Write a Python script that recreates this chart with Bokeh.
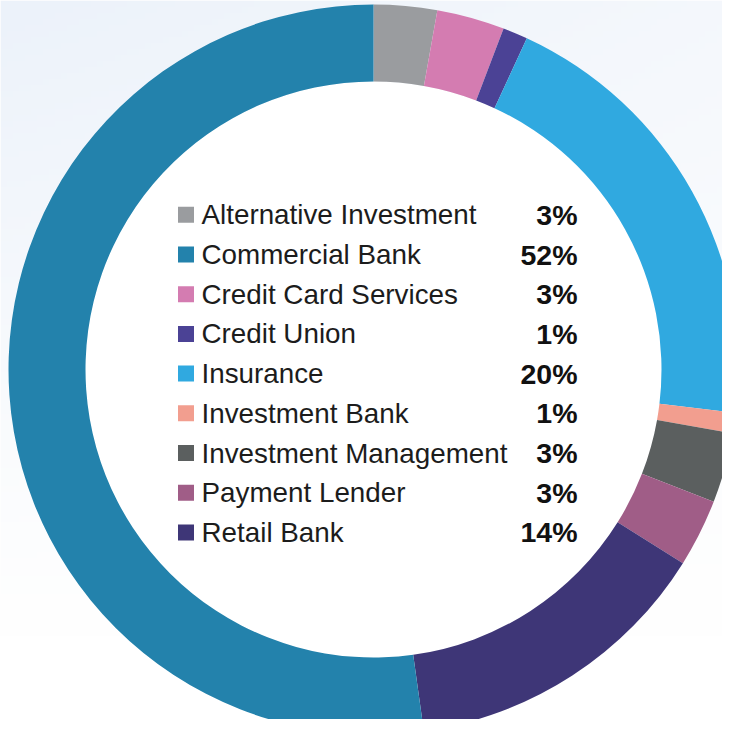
import numpy as np
from bokeh.plotting import figure
from bokeh.models import Range1d, ColumnDataSource
from bokeh.core.properties import value
from bokeh.embed import file_html
from bokeh.resources import INLINE

# ---------------- data ----------------
categories = ["Alternative Investment", "Commercial Bank", "Credit Card Services",
              "Credit Union", "Insurance", "Investment Bank",
              "Investment Management", "Payment Lender", "Retail Bank"]
shares = [2.8, 52.2, 3.0, 1.1, 20.0, 0.9, 3.1, 3.0, 13.9]
pct_labels = ["3%", "52%", "3%", "1%", "20%", "1%", "3%", "3%", "14%"]
colors = ["#9A9C9F", "#2382AC", "#D47CB1", "#4B4295", "#30A9E0",
          "#F29E8F", "#5B5F5F", "#A05D87", "#3E3677"]
# clockwise order of the ring, starting at 12 o'clock
ring_order = ["Alternative Investment", "Credit Card Services", "Credit Union",
              "Insurance", "Investment Bank", "Investment Management",
              "Payment Lender", "Retail Bank", "Commercial Bank"]

# ---------------- layout ----------------
W, H = 722, 719
PAGE_H = 735
def py(page_y):
    return PAGE_H - page_y

cx, cy = 373, py(369)
r_out, r_in = 365, 288

p = figure(width=W, height=H, output_backend="svg", toolbar_location=None,
           x_range=Range1d(0, W), y_range=Range1d(PAGE_H - H, PAGE_H),
           min_border=0, border_fill_color="white", background_fill_color="white")
p.axis.visible = False
p.grid.visible = False
p.outline_line_color = None

# subtle background gradient (decorative)
gh, gw = 120, 120
ys = np.linspace(H, 0, gh)[:, None]   # page y; row 0 = bottom of plot
xs = np.linspace(0, W, gw)[None, :]
f = np.clip(1 - ys / 640.0, 0, 1) ** 1.1 * (1 - 0.45 * xs / 738.0)
base = np.array([236, 242, 250], dtype=float)
rgb = 255 - f[..., None] * (255 - base)
img = np.empty((gh, gw), dtype=np.uint32)
view = img.view(dtype=np.uint8).reshape((gh, gw, 4))
view[..., 0] = rgb[..., 0].astype(np.uint8)
view[..., 1] = rgb[..., 1].astype(np.uint8)
view[..., 2] = rgb[..., 2].astype(np.uint8)
view[..., 3] = 255
p.image_rgba(image=[img], x=0, y=PAGE_H - H, dw=W, dh=H)

# white hole
p.scatter(x=[cx], y=[cy], size=2 * r_in, marker="circle",
          fill_color="white", line_color=None)

# ring
share_of = dict(zip(categories, shares))
color_of = dict(zip(categories, colors))
ring_vals = np.array([share_of[c] for c in ring_order])
cum = np.concatenate([[0], np.cumsum(ring_vals)]) / ring_vals.sum()
start = np.pi / 2 - 2 * np.pi * cum[:-1]
end = np.pi / 2 - 2 * np.pi * cum[1:]
ring_src = ColumnDataSource(dict(
    x=[cx] * len(ring_order), y=[cy] * len(ring_order),
    start=start, end=end, color=[color_of[c] for c in ring_order]))
p.annular_wedge(x="x", y="y", inner_radius=r_in, outer_radius=r_out,
                start_angle="start", end_angle="end", direction="clock",
                fill_color="color", line_color=None, source=ring_src)

# legend inside the hole
row0, step = 214.3, 39.7
leg_y = [py(row0 + i * step) for i in range(len(categories))]
leg_src = ColumnDataSource(dict(y=leg_y, cat=categories, pct=pct_labels, color=colors,
                                xs=[185.5] * len(categories), xt=[201] * len(categories),
                                xp=[577] * len(categories)))
p.scatter(x="xs", y="y", size=16, marker="square", fill_color="color",
          line_color=None, source=leg_src)
p.text(x="xt", y="y", text="cat", source=leg_src, text_font=value("Liberation Sans"),
       text_font_size="27.8px", text_color="#1c1c1c", text_baseline="middle",
       text_align="left")
p.text(x="xp", y="y", text="pct", source=leg_src, text_font=value("Liberation Sans"),
       text_font_size="28.5px", text_font_style="bold", text_color="#111111",
       text_baseline="middle", text_align="right")

open("out.html", "w").write(file_html(p, INLINE))
